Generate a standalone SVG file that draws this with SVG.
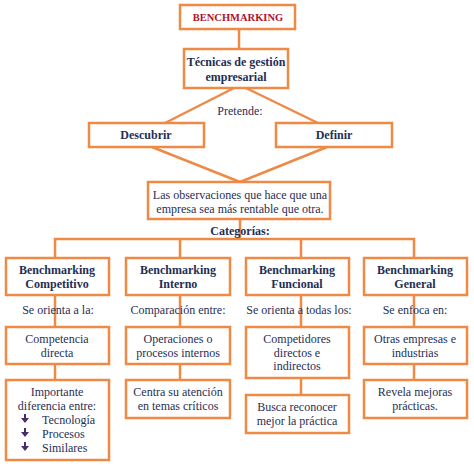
<svg xmlns="http://www.w3.org/2000/svg" width="474" height="466" viewBox="0 0 474 466">
<style>
.box{fill:#fff;stroke:#EE8A45;stroke-width:2.5}
.ln{stroke:#EE8A45;stroke-width:2.5;fill:none}
text{font-family:"Liberation Serif","DejaVu Serif",serif;fill:#1F2F55;text-anchor:middle;font-size:12px}
.b{font-weight:bold}
.t{font-weight:bold;fill:#B0112A;font-size:10.5px}
.bl{text-anchor:start}
</style>
<rect width="474" height="466" fill="#fff"/>
<g id="connectors">
<line class="ln" x1="239" y1="29" x2="239" y2="49"/>
<line class="ln" x1="234" y1="88" x2="165" y2="123"/>
<line class="ln" x1="246" y1="88" x2="318" y2="123"/>
<line class="ln" x1="152" y1="147" x2="240" y2="182"/>
<line class="ln" x1="327" y1="147" x2="240" y2="182"/>
<line class="ln" x1="240" y1="219" x2="240" y2="239"/>
<polyline class="ln" points="55,258 55,239 414,239 414,258"/>
<line class="ln" x1="180" y1="239" x2="180" y2="258"/>
<line class="ln" x1="301" y1="239" x2="301" y2="258"/>
<line class="ln" x1="55" y1="295" x2="55" y2="327"/>
<line class="ln" x1="180" y1="295" x2="180" y2="327"/>
<line class="ln" x1="301" y1="295" x2="301" y2="327"/>
<line class="ln" x1="414" y1="295" x2="414" y2="327"/>
<line class="ln" x1="55" y1="364" x2="55" y2="380"/>
<line class="ln" x1="180" y1="364" x2="180" y2="380"/>
<line class="ln" x1="301" y1="378" x2="301" y2="395"/>
<line class="ln" x1="414" y1="364" x2="414" y2="380"/>
</g>
<g id="benchmarking"><rect class="box" x="180" y="5" width="115" height="24"/><text class="t" x="238" y="21">BENCHMARKING</text></g>
<g id="tecnicas"><rect class="box" x="184" y="49" width="104" height="39"/><text class="b" x="236" y="66">Técnicas de gestión</text><text class="b" x="236" y="81">empresarial</text></g>
<g id="pretende"><text x="240" y="115">Pretende:</text></g>
<g id="descubrir"><rect class="box" x="89" y="123" width="115" height="24"/><text class="b" x="146" y="139">Descubrir</text></g>
<g id="definir"><rect class="box" x="276" y="123" width="116" height="24"/><text class="b" x="334" y="139">Definir</text></g>
<g id="observaciones"><rect class="box" x="148" y="182" width="182" height="37"/><text x="240" y="199">Las observaciones que hace que una</text><text x="240" y="213">empresa sea más rentable que otra.</text></g>
<g id="categorias"><text class="b" x="240" y="235">Categorías:</text></g>
<g id="competitivo"><rect class="box" x="6" y="258" width="103" height="37"/><text class="b" x="57" y="274">Benchmarking</text><text class="b" x="57" y="288">Competitivo</text></g>
<g id="interno"><rect class="box" x="126" y="258" width="104" height="37"/><text class="b" x="178" y="274">Benchmarking</text><text class="b" x="178" y="288">Interno</text></g>
<g id="funcional"><rect class="box" x="246" y="258" width="103" height="37"/><text class="b" x="297" y="274">Benchmarking</text><text class="b" x="297" y="288">Funcional</text></g>
<g id="general"><rect class="box" x="364" y="258" width="103" height="37"/><text class="b" x="415" y="274">Benchmarking</text><text class="b" x="415" y="288">General</text></g>
<g id="lbl1"><text x="58" y="314">Se orienta a la:</text></g>
<g id="lbl2"><text x="178" y="314">Comparación entre:</text></g>
<g id="lbl3"><text x="299" y="314">Se orienta a todas los:</text></g>
<g id="lbl4"><text x="415" y="314">Se enfoca en:</text></g>
<g id="competencia"><rect class="box" x="6" y="327" width="103" height="37"/><text x="57" y="343">Competencia</text><text x="57" y="357">directa</text></g>
<g id="operaciones"><rect class="box" x="126" y="327" width="104" height="37"/><text x="178" y="343">Operaciones o</text><text x="178" y="357">procesos internos</text></g>
<g id="competidores"><rect class="box" x="246" y="327" width="103" height="51"/><text x="297" y="343">Competidores</text><text x="297" y="357">directos e</text><text x="297" y="370">indirectos</text></g>
<g id="otras"><rect class="box" x="364" y="327" width="103" height="37"/><text x="415" y="343">Otras empresas e</text><text x="415" y="357">industrias</text></g>
<g id="importante"><rect class="box" x="6" y="380" width="103" height="80"/><text x="57" y="396">Importante</text><text x="57" y="410">diferencia entre:</text>
<g fill="#4A2A6A"><path d="M24,414 h2 v4 h3 l-4,5 l-4,-5 h3 z"/><path d="M24,428 h2 v4 h3 l-4,5 l-4,-5 h3 z"/><path d="M24,442 h2 v4 h3 l-4,5 l-4,-5 h3 z"/></g>
<text class="bl" x="42" y="424">Tecnología</text><text class="bl" x="42" y="438">Procesos</text><text class="bl" x="42" y="452">Similares</text></g>
<g id="centra"><rect class="box" x="126" y="380" width="104" height="38"/><text x="178" y="396">Centra su atención</text><text x="178" y="410">en temas críticos</text></g>
<g id="busca"><rect class="box" x="246" y="395" width="103" height="38"/><text x="297" y="411">Busca reconocer</text><text x="297" y="425">mejor la práctica</text></g>
<g id="revela"><rect class="box" x="364" y="380" width="103" height="38"/><text x="415" y="396">Revela mejoras</text><text x="415" y="410">prácticas.</text></g>
</svg>
